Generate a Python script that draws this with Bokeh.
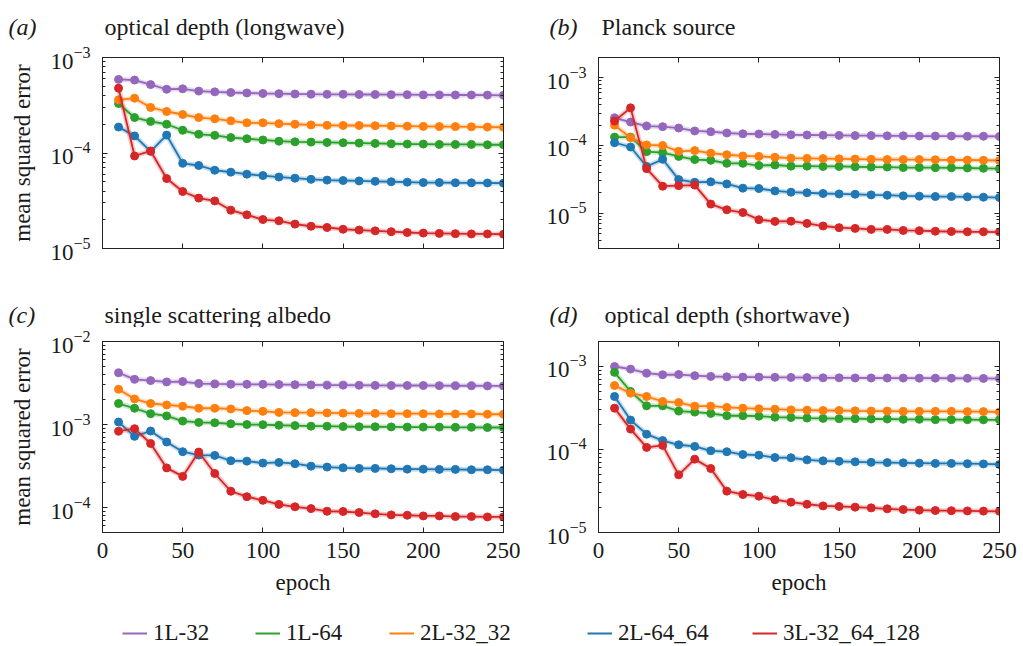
from bokeh.plotting import figure
from bokeh.models import (FixedTicker, LogAxis, LinearAxis, Label, Legend,
                          LegendItem, Range1d)
from bokeh.layouts import column, row
from bokeh.embed import file_html
from bokeh.resources import INLINE

# ---------------- data ----------------
epochs = list(range(10, 251, 10))
model_names = ["1L-32", "1L-64", "2L-32_32", "2L-64_64", "3L-32_64_128"]
model_colors = ["#9467bd", "#2ca02c", "#ff7f0e", "#1f77b4", "#d62728"]

# (a) optical depth (longwave)
a_1L_32 = [5.9e-4, 5.8e-4, 5.2e-4, 4.65e-4, 4.7e-4, 4.45e-4, 4.37e-4, 4.3e-4, 4.25e-4, 4.2e-4,
           4.18e-4, 4.15e-4, 4.13e-4, 4.12e-4, 4.12e-4, 4.1e-4, 4.1e-4, 4.08e-4, 4.08e-4, 4.06e-4,
           4.06e-4, 4.05e-4, 4.05e-4, 4.04e-4, 4.02e-4]
a_1L_64 = [3.3e-4, 2.35e-4, 2.14e-4, 2.0e-4, 1.73e-4, 1.57e-4, 1.53e-4, 1.45e-4, 1.41e-4, 1.37e-4,
           1.33e-4, 1.31e-4, 1.3e-4, 1.29e-4, 1.28e-4, 1.27e-4, 1.26e-4, 1.25e-4, 1.24e-4, 1.24e-4,
           1.23e-4, 1.23e-4, 1.23e-4, 1.22e-4, 1.22e-4]
a_2L_32_32 = [3.6e-4, 3.75e-4, 3.0e-4, 2.72e-4, 2.53e-4, 2.35e-4, 2.28e-4, 2.17e-4, 2.07e-4, 2.07e-4,
              2.03e-4, 2.0e-4, 1.97e-4, 1.95e-4, 1.94e-4, 1.94e-4, 1.93e-4, 1.92e-4, 1.91e-4, 1.9e-4,
              1.89e-4, 1.89e-4, 1.88e-4, 1.87e-4, 1.86e-4]
a_2L_64_64 = [1.87e-4, 1.51e-4, 1.04e-4, 1.54e-4, 7.8e-5, 7.4e-5, 6.6e-5, 6.3e-5, 6.0e-5, 5.8e-5,
              5.6e-5, 5.45e-5, 5.3e-5, 5.2e-5, 5.15e-5, 5.1e-5, 5.05e-5, 5.0e-5, 4.95e-5, 4.9e-5,
              4.9e-5, 4.88e-5, 4.87e-5, 4.85e-5, 4.83e-5]
a_3L_32_64_128 = [4.77e-4, 9.3e-5, 1.05e-4, 5.4e-5, 3.95e-5, 3.37e-5, 3.15e-5, 2.52e-5, 2.25e-5, 2.01e-5,
                  1.95e-5, 1.8e-5, 1.71e-5, 1.66e-5, 1.59e-5, 1.56e-5, 1.53e-5, 1.5e-5, 1.47e-5, 1.45e-5,
                  1.44e-5, 1.43e-5, 1.42e-5, 1.42e-5, 1.41e-5]

# (b) Planck source
b_1L_32 = [2.57e-4, 2.22e-4, 1.94e-4, 1.9e-4, 1.81e-4, 1.64e-4, 1.6e-4, 1.53e-4, 1.49e-4, 1.48e-4,
           1.46e-4, 1.44e-4, 1.43e-4, 1.42e-4, 1.41e-4, 1.4e-4, 1.4e-4, 1.39e-4, 1.39e-4, 1.38e-4,
           1.38e-4, 1.38e-4, 1.37e-4, 1.37e-4, 1.36e-4]
b_1L_64 = [1.33e-4, 1.33e-4, 8.1e-5, 7.85e-5, 6.9e-5, 6.2e-5, 6.05e-5, 5.45e-5, 5.45e-5, 5.05e-5,
           5.15e-5, 4.95e-5, 4.95e-5, 4.9e-5, 4.9e-5, 4.85e-5, 4.8e-5, 4.8e-5, 4.72e-5, 4.72e-5,
           4.7e-5, 4.68e-5, 4.65e-5, 4.6e-5, 4.55e-5]
b_2L_32_32 = [2.0e-4, 1.3e-4, 1.02e-4, 1.0e-4, 8.2e-5, 8.4e-5, 7.7e-5, 7.3e-5, 7.0e-5, 6.9e-5,
              6.7e-5, 6.5e-5, 6.45e-5, 6.4e-5, 6.35e-5, 6.3e-5, 6.25e-5, 6.2e-5, 6.2e-5, 6.2e-5,
              6.15e-5, 6.1e-5, 6.1e-5, 6.05e-5, 6.0e-5]
b_2L_64_64 = [1.1e-4, 9.5e-5, 4.9e-5, 6.25e-5, 3.13e-5, 2.86e-5, 2.9e-5, 2.7e-5, 2.34e-5, 2.31e-5,
              2.13e-5, 2.04e-5, 2.0e-5, 1.95e-5, 1.92e-5, 1.9e-5, 1.86e-5, 1.84e-5, 1.8e-5, 1.78e-5,
              1.76e-5, 1.76e-5, 1.74e-5, 1.72e-5, 1.7e-5]
b_3L_32_64_128 = [2.3e-4, 3.6e-4, 4.55e-5, 2.5e-5, 2.55e-5, 2.6e-5, 1.36e-5, 1.12e-5, 1.02e-5, 8.0e-6,
                  7.55e-6, 7.6e-6, 7.05e-6, 6.45e-6, 6.1e-6, 5.95e-6, 5.75e-6, 5.75e-6, 5.55e-6, 5.5e-6,
                  5.4e-6, 5.35e-6, 5.3e-6, 5.3e-6, 5.25e-6]

# (c) single scattering albedo
c_1L_32 = [4.2e-3, 3.5e-3, 3.38e-3, 3.26e-3, 3.29e-3, 3.11e-3, 3.08e-3, 3.06e-3, 3.05e-3, 3.05e-3,
           3.03e-3, 3.02e-3, 3.0e-3, 2.98e-3, 2.98e-3, 2.97e-3, 2.96e-3, 2.95e-3, 2.95e-3, 2.95e-3,
           2.94e-3, 2.93e-3, 2.93e-3, 2.92e-3, 2.92e-3]
c_1L_64 = [1.79e-3, 1.57e-3, 1.35e-3, 1.27e-3, 1.1e-3, 1.06e-3, 1.05e-3, 1.02e-3, 1.0e-3, 9.95e-4,
           9.8e-4, 9.7e-4, 9.55e-4, 9.55e-4, 9.45e-4, 9.4e-4, 9.4e-4, 9.35e-4, 9.3e-4, 9.3e-4,
           9.3e-4, 9.25e-4, 9.25e-4, 9.2e-4, 9.2e-4]
c_2L_32_32 = [2.66e-3, 2.03e-3, 1.79e-3, 1.72e-3, 1.66e-3, 1.57e-3, 1.57e-3, 1.54e-3, 1.47e-3, 1.44e-3,
              1.4e-3, 1.39e-3, 1.39e-3, 1.38e-3, 1.37e-3, 1.36e-3, 1.36e-3, 1.35e-3, 1.35e-3, 1.35e-3,
              1.34e-3, 1.34e-3, 1.34e-3, 1.33e-3, 1.33e-3]
c_2L_64_64 = [1.07e-3, 7.2e-4, 8.35e-4, 6.15e-4, 4.7e-4, 4.28e-4, 4.24e-4, 3.66e-4, 3.62e-4, 3.43e-4,
              3.49e-4, 3.37e-4, 3.15e-4, 3.07e-4, 3.01e-4, 2.96e-4, 2.96e-4, 2.93e-4, 2.9e-4, 2.9e-4,
              2.88e-4, 2.88e-4, 2.85e-4, 2.85e-4, 2.82e-4]
c_3L_32_64_128 = [8.3e-4, 8.9e-4, 5.9e-4, 3.0e-4, 2.37e-4, 4.66e-4, 2.57e-4, 1.57e-4, 1.35e-4, 1.22e-4,
                  1.09e-4, 1.02e-4, 9.7e-5, 9.0e-5, 8.95e-5, 8.7e-5, 8.4e-5, 8.15e-5, 8.07e-5, 7.92e-5,
                  7.92e-5, 7.78e-5, 7.78e-5, 7.7e-5, 7.7e-5]

# (d) optical depth (shortwave)
d_1L_32 = [1.0e-3, 9.3e-4, 8.3e-4, 7.95e-4, 8.0e-4, 7.75e-4, 7.6e-4, 7.5e-4, 7.45e-4, 7.45e-4,
           7.4e-4, 7.38e-4, 7.35e-4, 7.3e-4, 7.3e-4, 7.28e-4, 7.27e-4, 7.25e-4, 7.25e-4, 7.24e-4,
           7.23e-4, 7.22e-4, 7.2e-4, 7.18e-4, 7.16e-4]
d_1L_64 = [8.5e-4, 5.0e-4, 3.36e-4, 3.36e-4, 2.9e-4, 2.82e-4, 2.72e-4, 2.55e-4, 2.55e-4, 2.52e-4,
           2.45e-4, 2.43e-4, 2.39e-4, 2.37e-4, 2.35e-4, 2.35e-4, 2.33e-4, 2.33e-4, 2.31e-4, 2.31e-4,
           2.29e-4, 2.29e-4, 2.29e-4, 2.28e-4, 2.28e-4]
d_2L_32_32 = [5.9e-4, 4.77e-4, 4.35e-4, 3.79e-4, 3.68e-4, 3.33e-4, 3.33e-4, 3.21e-4, 3.15e-4, 3.09e-4,
              3.06e-4, 3.0e-4, 2.98e-4, 2.95e-4, 2.95e-4, 2.92e-4, 2.9e-4, 2.9e-4, 2.88e-4, 2.88e-4,
              2.88e-4, 2.88e-4, 2.86e-4, 2.86e-4, 2.83e-4]
d_2L_64_64 = [4.35e-4, 2.26e-4, 1.53e-4, 1.28e-4, 1.14e-4, 1.09e-4, 9.65e-5, 9.4e-5, 8.7e-5, 8.55e-5,
              8.0e-5, 7.95e-5, 7.5e-5, 7.3e-5, 7.2e-5, 7.1e-5, 7.0e-5, 6.95e-5, 6.9e-5, 6.85e-5,
              6.8e-5, 6.8e-5, 6.75e-5, 6.7e-5, 6.6e-5]
d_3L_32_64_128 = [3.15e-4, 1.76e-4, 1.06e-4, 1.12e-4, 4.95e-5, 7.65e-5, 5.9e-5, 3.15e-5, 2.87e-5, 2.74e-5,
                  2.48e-5, 2.32e-5, 2.19e-5, 2.09e-5, 2.06e-5, 2.02e-5, 1.98e-5, 1.93e-5, 1.89e-5, 1.86e-5,
                  1.84e-5, 1.83e-5, 1.82e-5, 1.81e-5, 1.8e-5]

panel_letters = ["(a)", "(b)", "(c)", "(d)"]
panel_titles = ["optical depth (longwave)", "Planck source",
                "single scattering albedo", "optical depth (shortwave)"]
panel_ylims = [(1e-5, 1e-3), (3e-6, 2e-3), (5e-5, 1e-2), (1e-5, 2e-3)]
x_ticks = [0, 50, 100, 150, 200, 250]

FONT = "Liberation Serif"
FS = "23px"
FS_TITLE = "24px"
INK = "#222222"
TXT = "#1a1a1a"


def style_axis(ax, show_labels):
    ax.major_tick_in = 5
    ax.major_tick_out = 0
    ax.minor_tick_in = 3
    ax.minor_tick_out = 0
    ax.axis_line_color = INK
    ax.major_tick_line_color = INK
    ax.minor_tick_line_color = INK
    ax.major_label_text_font = FONT
    ax.major_label_text_font_size = FS
    ax.major_label_text_color = TXT
    ax.axis_label_text_font = FONT
    ax.axis_label_text_font_size = FS
    ax.axis_label_text_font_style = "normal"
    ax.axis_label_text_color = TXT
    if not show_labels:
        ax.major_label_text_color = None
        ax.major_label_text_font_size = "1px"
        ax.major_label_standoff = 0


def make_panel(series, ylim, width, height, left, right, top, bottom,
               show_xlabels, show_ylabel):
    lo, hi = ylim
    p = figure(width=width, height=height, y_axis_type="log",
               x_range=Range1d(0, 250), y_range=Range1d(lo, hi),
               toolbar_location=None, output_backend="svg", title=None,
               min_border_left=left, min_border_right=right,
               min_border_top=top, min_border_bottom=bottom)
    p.xgrid.visible = False
    p.ygrid.visible = False
    p.outline_line_color = INK
    p.background_fill_color = "white"
    p.border_fill_color = "white"

    majors = [10.0 ** k for k in range(-7, 0) if lo * 0.999 <= 10.0 ** k <= hi * 1.001]
    minors = [m * 10.0 ** k for k in range(-7, 0) for m in range(2, 10)
              if lo <= m * 10.0 ** k <= hi]

    ya = p.yaxis[0]
    ya.ticker = FixedTicker(ticks=majors, minor_ticks=minors)
    style_axis(ya, True)
    ya.major_label_standoff = 12
    if show_ylabel:
        ya.axis_label = "mean squared error"
        ya.axis_label_standoff = 12
    xa = p.xaxis[0]
    xa.ticker = FixedTicker(ticks=x_ticks, minor_ticks=[])
    style_axis(xa, show_xlabels)
    if show_xlabels:
        xa.major_label_standoff = 10
        xa.axis_label = "epoch"
        xa.axis_label_standoff = 9

    ra = LogAxis(ticker=FixedTicker(ticks=majors, minor_ticks=minors))
    style_axis(ra, False)
    p.add_layout(ra, "right")
    ta = LinearAxis(ticker=FixedTicker(ticks=x_ticks, minor_ticks=[]))
    style_axis(ta, False)
    p.add_layout(ta, "above")

    for vals, c in zip(series, model_colors):
        p.line(epochs, vals, line_color=c, line_width=5, line_alpha=0.25)
        p.line(epochs, vals, line_color=c, line_width=1.8)
        p.scatter(epochs, vals, size=8, fill_color=c, line_color=c)
    return p


def make_strip(height):
    s = figure(width=1023, height=height, toolbar_location=None, output_backend="svg",
               title=None, x_range=Range1d(0, 1), y_range=Range1d(0, 1),
               min_border=0, min_border_left=0, min_border_right=0,
               min_border_top=0, min_border_bottom=0)
    s.axis.visible = False
    s.xgrid.visible = False
    s.ygrid.visible = False
    s.outline_line_color = None
    return s


def add_titles(strip, base_y, items):
    for (letter, title, lx, tx) in items:
        strip.add_layout(Label(x=lx, y=base_y, x_units="screen", y_units="screen",
                               text=letter, text_font=FONT, text_font_size=FS_TITLE,
                               text_font_style="italic", text_color=TXT,
                               text_baseline="alphabetic"))
        strip.add_layout(Label(x=tx, y=base_y, x_units="screen", y_units="screen",
                               text=title, text_font=FONT, text_font_size=FS_TITLE,
                               text_color=TXT, text_baseline="alphabetic"))


series_a = [a_1L_32, a_1L_64, a_2L_32_32, a_2L_64_64, a_3L_32_64_128]
series_b = [b_1L_32, b_1L_64, b_2L_32_32, b_2L_64_64, b_3L_32_64_128]
series_c = [c_1L_32, c_1L_64, c_2L_32_32, c_2L_64_64, c_3L_32_64_128]
series_d = [d_1L_32, d_1L_64, d_2L_32_32, d_2L_64_64, d_3L_32_64_128]

# rows: header 0-40, top panels 40-264 (frames 57-248), header 264-327,
# bottom panels 327-602 (frames 341-532), legend 602-646
head1 = make_strip(40)
add_titles(head1, 14, [(panel_letters[0], panel_titles[0], 8, 104),
                       (panel_letters[1], panel_titles[1], 549, 601)])
pa = make_panel(series_a, panel_ylims[0], 520, 224, 102, 17, 17, 16, False, True)
pb = make_panel(series_b, panel_ylims[1], 503, 224, 78, 24, 17, 16, False, False)
head2 = make_strip(63)
add_titles(head2, 13, [(panel_letters[2], panel_titles[2], 8, 104),
                       (panel_letters[3], panel_titles[3], 549, 604)])
pc = make_panel(series_c, panel_ylims[2], 520, 275, 102, 17, 14, 70, True, True)
pd = make_panel(series_d, panel_ylims[3], 503, 275, 78, 24, 14, 70, True, False)

# legend strip
pl = make_strip(44)
legend_x = [122, 255, 389, 587, 752]
for name, c, lx in zip(model_names, model_colors, legend_x):
    r = pl.line(x=[-1, -1], y=[-1, -1], line_color=c, line_width=2)
    leg = Legend(items=[LegendItem(label=name, renderers=[r])], location=(lx, 0),
                 orientation="horizontal", border_line_color=None,
                 background_fill_alpha=0, padding=0, margin=0, spacing=0,
                 glyph_width=25, glyph_height=20, label_standoff=6,
                 label_text_font=FONT, label_text_font_size=FS,
                 label_text_color=TXT)
    pl.add_layout(leg, "center")

layout = column(head1, row(pa, pb), head2, row(pc, pd), pl)
open("out.html", "w").write(file_html(layout, INLINE))
